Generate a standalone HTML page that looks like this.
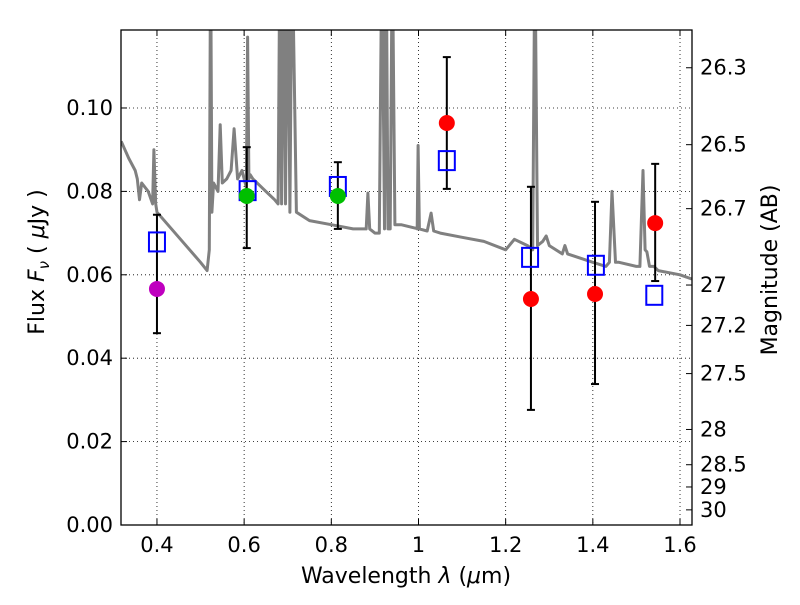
<!DOCTYPE html>
<html><head><meta charset="utf-8"><style>
body{margin:0;background:#fff;}
svg text{font-family:"DejaVu Sans","Liberation Sans",sans-serif;fill:#000;}
</style></head><body>
<svg id="chart" width="800" height="600" xmlns="http://www.w3.org/2000/svg">
<rect width="800" height="600" fill="#fff"/>
<g id="grid"></g>
<g id="spec"></g>
<g id="marks"></g>
<rect x="121" y="30" width="571" height="495" fill="none" stroke="#000" stroke-width="1.3"/>
<g id="axes"></g>
<text x="406" y="583" font-size="22" text-anchor="middle">Wavelength  <tspan font-style="italic">λ</tspan> (<tspan font-style="italic">μ</tspan>m)</text>
<text transform="translate(44,262) rotate(-90)" font-size="22" text-anchor="middle">Flux  <tspan font-style="italic">F</tspan><tspan font-style="italic" font-size="15" dy="5">ν</tspan><tspan dy="-5">  ( </tspan><tspan font-style="italic">μ</tspan>Jy )</text>
<text transform="translate(777,270) rotate(-90)" font-size="22" text-anchor="middle">Magnitude (AB)</text>
</svg>
<script>
const xTicks=[0.4,0.6,0.8,1.0,1.2,1.4,1.6];
const xTickLabels=["0.4","0.6","0.8","1","1.2","1.4","1.6"];
const yTicks=[0,0.02,0.04,0.06,0.08,0.10];
const yTickLabels=["0.00","0.02","0.04","0.06","0.08","0.10"];
const magTicks=[26.3,26.5,26.7,27,27.2,27.5,28,28.5,29,30];
const specWave=[0.318,0.335,0.35,0.355,0.36,0.365,0.38,0.39,0.393,0.397,0.40,0.45,0.50,0.515,0.52,0.523,0.526,0.53,0.54,0.545,0.55,0.56,0.57,0.577,0.585,0.595,0.605,0.608,0.611,0.614,0.62,0.65,0.67,0.678,0.682,0.686,0.69,0.695,0.70,0.705,0.71,0.72,0.75,0.8,0.85,0.88,0.884,0.888,0.9,0.91,0.916,0.922,0.926,0.93,0.935,0.94,0.946,0.952,0.96,1.0,0.997,0.999,1.002,1.02,1.029,1.035,1.05,1.1,1.15,1.2,1.22,1.25,1.262,1.267,1.273,1.285,1.293,1.3,1.33,1.336,1.342,1.4,1.43,1.438,1.444,1.452,1.46,1.5,1.508,1.515,1.52,1.524,1.53,1.54,1.55,1.6,1.627];
const specFlux=[0.092,0.088,0.085,0.083,0.078,0.082,0.080,0.077,0.090,0.077,0.075,0.069,0.063,0.061,0.066,0.14,0.075,0.082,0.080,0.096,0.082,0.083,0.085,0.095,0.083,0.085,0.081,0.117,0.083,0.084,0.083,0.080,0.078,0.077,0.14,0.077,0.14,0.077,0.14,0.075,0.14,0.075,0.073,0.072,0.071,0.071,0.0796,0.071,0.070,0.070,0.14,0.071,0.14,0.071,0.071,0.14,0.072,0.072,0.072,0.071,0.071,0.091,0.071,0.0705,0.0748,0.0705,0.0700,0.069,0.068,0.066,0.0685,0.067,0.066,0.14,0.067,0.068,0.0693,0.067,0.065,0.067,0.065,0.063,0.062,0.063,0.080,0.063,0.063,0.062,0.062,0.085,0.066,0.0655,0.062,0.062,0.061,0.060,0.059];
const ptWave=[0.40,0.606,0.815,1.065,1.258,1.405,1.543];
const ptFlux=[0.0566,0.0789,0.0789,0.0964,0.0542,0.0554,0.0724];
const ptColor=["#bf00bf","#00bf00","#00bf00","#ff0000","#ff0000","#ff0000","#ff0000"];
const sqWave=[0.40,0.608,0.815,1.065,1.256,1.407,1.541];
const sqFlux=[0.068,0.0803,0.0813,0.0875,0.0643,0.0624,0.0552];
const errLo=[0.046,0.0664,0.0710,0.0806,0.0276,0.0338,0.0585];
const errHi=[0.0744,0.0906,0.0870,0.1122,0.0811,0.0775,0.0866];

const NS="http://www.w3.org/2000/svg";
const X0=121,X1=692,Y0=525,Y1=30,XMIN=0.3175,XMAX=1.6275,YMIN=0,YMAX=0.1187;
const sx=v=>X0+(v-XMIN)/(XMAX-XMIN)*(X1-X0);
const sy=v=>Y0-(v-YMIN)/(YMAX-YMIN)*(Y0-Y1);
function mk(tag,attrs,parent){const e=document.createElementNS(NS,tag);for(const k in attrs)e.setAttribute(k,attrs[k]);parent.appendChild(e);return e;}
const grid=document.getElementById('grid'),axes=document.getElementById('axes');
xTicks.forEach((t,i)=>{const x=sx(t);
 const g=mk('line',{x1:x,x2:x,y1:Y1,y2:Y0,stroke:'#000','stroke-width':0.8,'stroke-dasharray':'1,3'},grid);
 
 mk('line',{x1:x,x2:x,y1:Y0,y2:Y0-6,stroke:'#000'},axes);mk('line',{x1:x,x2:x,y1:Y1,y2:Y1+6,stroke:'#000'},axes);
 const tx=mk('text',{x:x,y:Y0+27,'font-size':21,'text-anchor':'middle'},axes);tx.textContent=xTickLabels[i];
 });
yTicks.forEach((t,i)=>{const y=sy(t);
 const g=mk('line',{x1:X0,x2:X1,y1:y,y2:y,stroke:'#000','stroke-width':0.8,'stroke-dasharray':'1,3'},grid);
 
 mk('line',{x1:X0,x2:X0+6,y1:y,y2:y,stroke:'#000'},axes);
 const tx=mk('text',{x:X0-8,y:y+7,'font-size':21,'text-anchor':'end'},axes);tx.textContent=yTickLabels[i];
 });
magTicks.forEach(m=>{const y=sy(Math.pow(10,(23.9-m)/2.5));
 mk('line',{x1:X1,x2:X1-6,y1:y,y2:y,stroke:'#000'},axes);
 const tx=mk('text',{x:X1+8,y:y+7,'font-size':21},axes);tx.textContent=String(m);
 });
const spec=document.getElementById('spec');
const clip=mk('clipPath',{id:'pc'},spec);mk('rect',{x:X0,y:Y1,width:X1-X0,height:Y0-Y1},clip);
const pts=specWave.map((w,i)=>sx(w).toFixed(1)+','+sy(specFlux[i]).toFixed(1)).join(' ');
const pl=mk('polyline',{points:pts,fill:'none',stroke:'#808080','stroke-width':3,'stroke-linejoin':'round','clip-path':'url(#pc)'},spec);

const marks=document.getElementById('marks');
ptWave.forEach((w,i)=>{const x=sx(w);
 const e=mk('g',{},marks);
 mk('line',{x1:x,x2:x,y1:sy(errLo[i]),y2:sy(errHi[i]),stroke:'#000','stroke-width':2},e);
 mk('line',{x1:x-4,x2:x+4,y1:sy(errLo[i]),y2:sy(errLo[i]),stroke:'#000','stroke-width':2},e);
 mk('line',{x1:x-4,x2:x+4,y1:sy(errHi[i]),y2:sy(errHi[i]),stroke:'#000','stroke-width':2},e);});
sqWave.forEach((w,i)=>{const r=mk('rect',{x:sx(w)-8,y:sy(sqFlux[i])-9,width:16,height:19,fill:'none',stroke:'#0000ff','stroke-width':2},marks);
 });
ptWave.forEach((w,i)=>{const c=mk('circle',{cx:sx(w),cy:sy(ptFlux[i]),r:8,fill:ptColor[i]},marks);
 });
</script>
</body></html>
